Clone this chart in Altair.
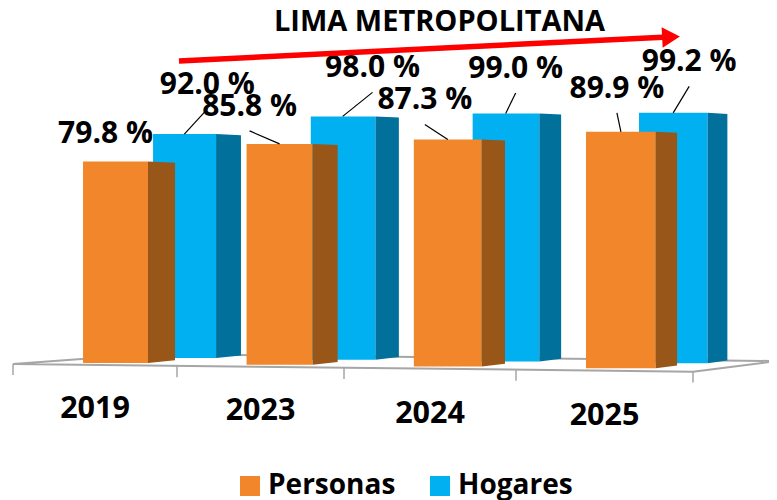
import altair as alt
import pandas as pd

years = ["2019", "2023", "2024", "2025"]
personas = [79.8, 85.8, 87.3, 89.9]
hogares = [92.0, 98.0, 99.0, 99.2]
series_names = ["Personas", "Hogares"]
title_text = "LIMA METROPOLITANA"

FONT = "Open Sans"
W, H = 761, 492
X_SCALE = alt.Scale(domain=[0, 1, 2, 3, 4, 4.5], range=[5, 169, 336, 508, 685, 775], nice=False, zero=False)
Y_SCALE = alt.Scale(domain=[-34.9, 131.86], nice=False, zero=False)
PX = 2.95  # plot pixels per y unit
COLORS = {"Personas": "#F2862A", "Hogares": "#00B0F0"}
SIDE = {"Personas": "#985619", "Hogares": "#01719C"}

# perspective layout: (start, slope per category)
GEOM = {
    "Personas": dict(left=(.427, -.0105), right=(.823, -.011), back=(.988, -.026), base=(11.55, -.6), shift=0.0),
    "Hogares": dict(left=(.854, -.053), right=(1.234, -.051), back=(1.383, -.064), base=(13.2, -.57), shift=2.88),
}
LABEL_OFF = {
    "Personas": [(-10, -28), (-30, -37), (-23, -39), (-4, -43)],
    "Hogares": [(22.5, -49), (29, -48), (10, -44.5), (16, -50.5)],
}
STEP = [164, 167, 172, 177]

fronts, sides, labels, leaders = [], [], [], []
for s, vals in zip(series_names, [personas, hogares]):
    g = GEOM[s]
    for i, (yr, v) in enumerate(zip(years, vals)):
        at = lambda k: i + g[k][0] + g[k][1] * i
        top = v - g["shift"]
        base = g["base"][0] + g["base"][1] * i
        fronts.append(dict(series=s, u=at("left"), u2=at("right"), top=top, base=base))
        sides.append(dict(series=s, bar=f"{s}{yr}", u=at("right"), top=top, base=base))
        sides.append(dict(series=s, bar=f"{s}{yr}", u=at("back"), top=top - .35, base=base + .9))
        cu = (at("left") + at("right")) / 2
        dx, dy = LABEL_OFF[s][i]
        lu = cu + dx / STEP[min(i, 3)]
        lv = top - dy / PX
        labels.append(dict(text=f"{v:.1f} %", u=lu, v=lv))
        if not (s == "Personas" and i == 0):
            leaders.append(dict(u=cu, u2=lu, v=top, v2=lv - 24 / PX))

front_df = pd.DataFrame(fronts)
side_df = pd.DataFrame(sides)
label_df = pd.DataFrame(labels)
leader_df = pd.DataFrame(leaders)

x = alt.X("u:Q", scale=X_SCALE, axis=None)
y = alt.Y("top:Q", scale=Y_SCALE, axis=None)

color = alt.Color(
    "series:N",
    scale=alt.Scale(domain=series_names, range=[COLORS[s] for s in series_names]),
    legend=alt.Legend(
        title=None, orient="none", direction="horizontal", legendX=228, legendY=464,
        symbolType="square", symbolSize=400, symbolStrokeWidth=0, symbolOpacity=1,
        labelFont=FONT, labelFontSize=28, labelFontWeight="bold", labelColor="black",
        columnPadding=30, labelOffset=4, columns=2,
    ),
)

def front(s):
    return alt.Chart(front_df[front_df.series == s]).mark_bar(stroke=None).encode(
        x=x, x2="u2:Q", y=y, y2="base:Q", color=color)

def side(s):
    return alt.Chart(side_df[side_df.series == s]).mark_area(color=SIDE[s], interpolate="linear").encode(
        x=x, y=y, y2="base:Q", detail="bar:N")

# floor of the pseudo-3D chart
floor_df = pd.DataFrame(dict(u=[0, 4, 4.467, .835, 0], top=[11.2, 8.6, 12.2, 14.6, 11.2], o=[0, 1, 2, 3, 4]))
floor = alt.Chart(floor_df).mark_line(color="#A6A6A6", strokeWidth=2).encode(x=x, y=y, order="o:Q")
tick_df = pd.DataFrame(dict(u=[0, 1, 2, 3, 4], top=[11.2, 10.4, 9.8, 9.2, 8.6]))
tick_df["bottom"] = tick_df.top - 3.7
ticks = alt.Chart(tick_df).mark_rule(color="#A6A6A6", strokeWidth=1.5).encode(x=x, y=y, y2="bottom:Q")

year_df = pd.DataFrame(dict(u=[i + .5 for i in range(4)], top=[-4.1 - .79 * i for i in range(4)], text=years))
year_text = alt.Chart(year_df).mark_text(font=FONT, fontSize=30.5, fontWeight="bold", color="black", baseline="middle").encode(
    x=x, y=y, text="text:N")

leader = alt.Chart(leader_df).mark_rule(color="black", strokeWidth=1.2).encode(
    x=x, x2="u2:Q", y=alt.Y("v:Q", scale=Y_SCALE, axis=None), y2="v2:Q")
label = alt.Chart(label_df).mark_text(font=FONT, fontSize=30, fontWeight="bold", color="black", baseline="middle").encode(
    x=x, y=alt.Y("v:Q", scale=Y_SCALE, axis=None), text="text:N")

one = pd.DataFrame(dict(text=[title_text]))
title = alt.Chart(one).mark_text(font=FONT, fontSize=29, fontWeight="bold", color="black", baseline="middle").encode(
    x=alt.value(431.5), y=alt.value(14), text="text:N")
arrow_line = alt.Chart(one).mark_rule(color="#FF0000", strokeWidth=5.5).encode(
    x=alt.value(171), x2=alt.value(660), y=alt.value(53), y2=alt.value(29))
arrow_head = alt.Chart(one).mark_point(shape="triangle-right", filled=True, color="#FF0000", opacity=1, size=420, angle=357).encode(
    x=alt.value(663), y=alt.value(29))

chart = alt.layer(
    floor, ticks, front("Hogares"), side("Hogares"), front("Personas"), side("Personas"),
    leader, label, year_text, arrow_line, arrow_head, title,
).resolve_scale(x="shared", y="shared").properties(
    width=W, height=H, padding=0, autosize=alt.AutoSizeParams(type="none"), background="white"
).configure_view(stroke=None)

chart.save("out.html", embed_options={"renderer": "svg", "actions": False})
